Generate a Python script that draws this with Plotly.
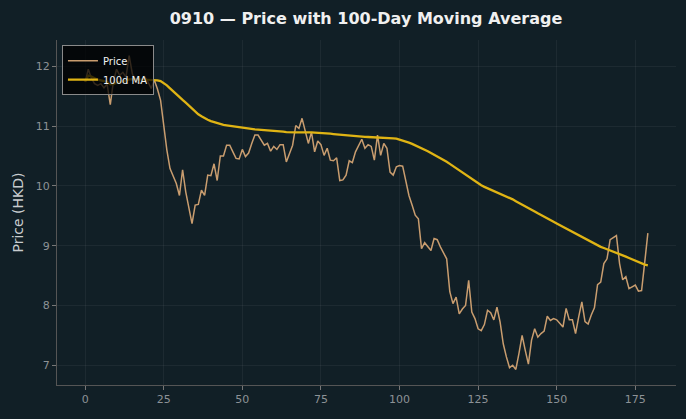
import plotly.graph_objects as go
import pandas as pd

days = list(range(180))
price = [
    11.74, 11.95, 11.80, 11.71, 11.68, 11.71, 11.64, 11.70, 11.36, 11.75,
    11.95, 11.85, 11.90, 11.82, 12.18, 11.88, 11.74, 11.72, 11.72, 11.82,
    11.74, 11.63, 11.77, 11.62, 11.43, 11.00, 10.60, 10.29, 10.15, 10.04,
    9.84, 10.27, 9.90, 9.65, 9.37, 9.68, 9.69, 9.93, 9.84, 10.18,
    10.17, 10.37, 10.09, 10.50, 10.50, 10.68, 10.68, 10.57, 10.46, 10.45,
    10.61, 10.49, 10.55, 10.71, 10.85, 10.85, 10.76, 10.68, 10.71, 10.58,
    10.66, 10.61, 10.69, 10.69, 10.40, 10.55, 10.68, 11.01, 10.96, 11.13,
    10.90, 10.71, 10.90, 10.57, 10.75, 10.69, 10.51, 10.63, 10.43, 10.42,
    10.47, 10.09, 10.10, 10.18, 10.42, 10.39, 10.57, 10.69, 10.78, 10.63,
    10.69, 10.66, 10.43, 10.85, 10.51, 10.71, 10.63, 10.23, 10.18, 10.32,
    10.34, 10.33, 10.10, 9.84, 9.68, 9.51, 9.45, 8.95, 9.05, 8.98,
    8.92, 9.12, 9.10, 8.98, 8.87, 8.78, 8.23, 8.03, 8.14, 7.86,
    7.94, 8.00, 8.42, 7.89, 7.78, 7.61, 7.58, 7.68, 7.92, 7.88,
    7.76, 7.97, 7.72, 7.36, 7.14, 6.96, 7.00, 6.93, 7.20, 7.50,
    7.25, 7.02, 7.42, 7.61, 7.47, 7.53, 7.57, 7.82, 7.75, 7.78,
    7.76, 7.70, 7.64, 7.95, 7.76, 7.76, 7.53, 7.81, 8.06, 7.73,
    7.69, 7.84, 7.96, 8.35, 8.39, 8.70, 8.78, 9.10, 9.13, 9.17,
    8.70, 8.43, 8.48, 8.28, 8.31, 8.34, 8.24, 8.25, 8.72, 9.21,
]
ma_window = 100
ma = pd.Series(price).rolling(ma_window, min_periods=1).mean().tolist()

x_ticks = [0, 25, 50, 75, 100, 125, 150, 175]
y_ticks = [7, 8, 9, 10, 11, 12]

BG = "#111f26"
fig = go.Figure()
fig.add_trace(go.Scatter(x=days, y=price, mode="lines", name="Price",
                         line=dict(color="#c99d6f", width=1.5)))
fig.add_trace(go.Scatter(x=days, y=ma, mode="lines", name="100d MA",
                         line=dict(color="#e0b414", width=2.3)))

fig.update_layout(
    width=686, height=419,
    paper_bgcolor=BG, plot_bgcolor=BG,
    margin=dict(l=57, r=10, t=40, b=34),
    font=dict(family="DejaVu Sans", color="#9a9fa3", size=11),
    title=dict(text="<b>0910 — Price with 100-Day Moving Average</b>",
               x=0.5335, xanchor="center", y=0.957, yanchor="middle",
               font=dict(size=16, color="#f0f0f0", family="DejaVu Sans")),
    showlegend=True,
    legend=dict(x=0.008, y=0.985, xanchor="left", yanchor="top",
                bgcolor="rgba(0,0,0,0.75)", bordercolor="#8a8a8a", borderwidth=1,
                font=dict(size=10, color="#f2f2f2"), itemwidth=30,
                tracegroupgap=0),
)
fig.update_xaxes(range=[-8.95, 187.95], tickvals=x_ticks, showgrid=True,
                 gridcolor="rgba(255,255,255,0.05)", zeroline=False,
                 showline=True, linecolor="#555555", linewidth=1,
                 ticks="outside", ticklen=4, tickcolor="#777777",
                 tickfont=dict(size=11, color="#8d9296"))
fig.update_yaxes(range=[6.67, 12.44], tickvals=y_ticks, showgrid=True,
                 gridcolor="rgba(255,255,255,0.05)", zeroline=False,
                 showline=True, linecolor="#555555", linewidth=1,
                 ticks="outside", ticklen=4, tickcolor="#777777",
                 tickfont=dict(size=11, color="#8d9296"),
                 title=dict(text="Price (HKD)", font=dict(size=14, color="#c8cccf"),
                            standoff=8))
fig.write_html("out.html")
